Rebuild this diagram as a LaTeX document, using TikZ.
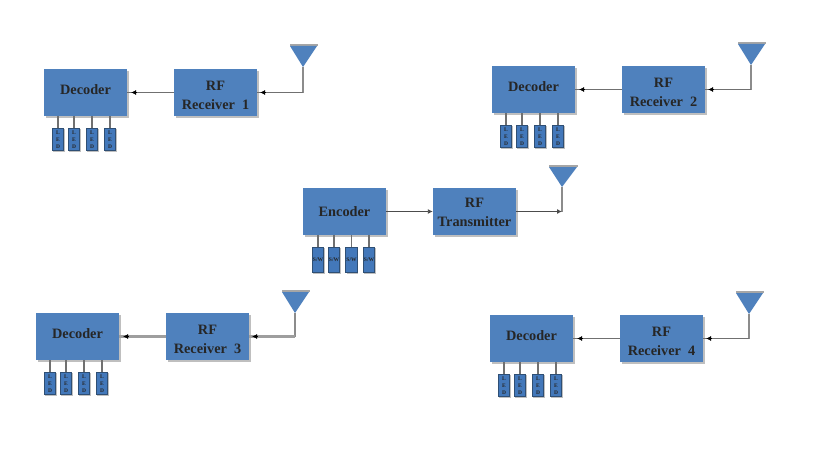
\documentclass[tikz,border=0pt]{standalone}
\usepackage{fontspec}
\setmainfont{Liberation Serif}
\usetikzlibrary{arrows.meta,calc}
\definecolor{boxblue}{HTML}{4F81BD}
\definecolor{ledblue}{HTML}{4378BA}
\definecolor{ledline}{HTML}{2F4F74}
\definecolor{wiregray}{HTML}{707070}
\newcommand{\shifted}[2]{\raisebox{#1}[10pt][3pt]{#2}}
\tikzset{
  x=1pt,y=-1pt,
  shadowed/.style={preaction={draw=none,fill=black!25,transform canvas={shift={(#1,-#1)}}}},
  blockbox/.style={shadowed=2.2pt,fill=boxblue,draw=none,minimum width=83pt,minimum height=47pt,
    inner sep=0pt,align=center,font=\bfseries\fontsize{14.3}{19}\selectfont,text=black!85},
  smallbox/.style={shadowed=1.1pt,fill=ledblue,draw=ledline,line width=.7pt,minimum width=11.5pt,minimum height=22.5pt,inner sep=0pt,
    align=center,text=black!85,font=\bfseries\fontsize{5.5}{7}\selectfont},
  swbox/.style={smallbox,minimum height=25.5pt},
  stub/.style={draw=wiregray,line width=1.1pt},
  wire/.style={draw=wiregray,line width=.9pt},
  stemline/.style={draw=black!45,line width=1.3pt},
  thickwire/.style={draw=black!38,line width=3pt},
  antfill/.style={fill=boxblue,draw=none},
  headtip/.style={-{Latex[length=5pt,width=5pt]},line width=.5pt},
}
% prefix, dx, dy, wire style, receiver label, antenna dy
\newcommand{\rxgroup}[6]{%
  \begin{scope}[shift={(#2,#3)}]
    \node[blockbox] (#1d) at (85.5,92.5) {\shifted{2pt}{Decoder}};
    \node[blockbox] (#1r) at (215.5,92.5) {\shifted{-3.5pt}{RF}\\\shifted{-3.5pt}{Receiver\ \ #5}};
    \foreach \k/\xx in {1/58,2/74,3/92,4/110}{
      \node[smallbox] (#1l\k) at (\xx,139.5) {L\\E\\D};
      \draw[stub] (#1l\k.north) -- (#1l\k.north |- #1d.south);
    }
    \coordinate (#1tip) at (303,{67+#6});
    \fill[black!35] (289.5,{44+#6}) rectangle (317.5,{46+#6});
    \fill[antfill] (290,{46+#6}) -- (317,{46+#6}) -- (#1tip) -- cycle;
    \draw[stemline] (#1tip) -- (#1tip |- #1r.east);
    \draw[#4] (#1tip |- #1r.east) -- (#1r.east);
    \draw[#4] (#1r.west) -- (#1d.east);
    \draw[headtip,shorten >=3pt] ($(#1r.east)+(9,0)$) -- (#1r.east);
    \draw[headtip,shorten >=4pt] ($(#1d.east)+(10,0)$) -- (#1d.east);
  \end{scope}}
\begin{document}
\begin{tikzpicture}
\useasboundingbox (0,0) rectangle (816,460);
\fill[white] (0,0) rectangle (816,460);
\rxgroup{a}{0}{0}{wire}{1}{0}
\rxgroup{b}{448}{-3}{wire}{2}{1}
\rxgroup{c}{-8}{244}{thickwire}{3}{2}
\rxgroup{e}{446}{246}{wire}{4}{1}
% encoder and transmitter
\node[blockbox] (enc) at (344.5,211.5) {Encoder};
\node[blockbox] (tx) at (474.5,211.5) {\shifted{-2pt}{RF}\\\shifted{-2pt}{Transmitter}};
\foreach \k/\xx in {1/318,2/334,3/351.5,4/369}{
  \node[swbox] (s\k) at (\xx,260) {S/W};
  \draw[stub] (s\k.north) -- (s\k.north |- enc.south);
}
\coordinate (ttip) at (562,187);
\fill[black!35] (548.5,165) rectangle (577.5,167);
\fill[antfill] (549,167) -- (577,167) -- (ttip) -- cycle;
\draw[stemline] (ttip) -- (ttip |- tx.east);
\draw[wire,-{Latex[length=5pt,width=5pt]},draw=black!70] (enc.east) -- (tx.west);
\draw[wire,-{Latex[length=5pt,width=5pt]},draw=black!70] (tx.east) -- (ttip |- tx.east);
\end{tikzpicture}
\end{document}
